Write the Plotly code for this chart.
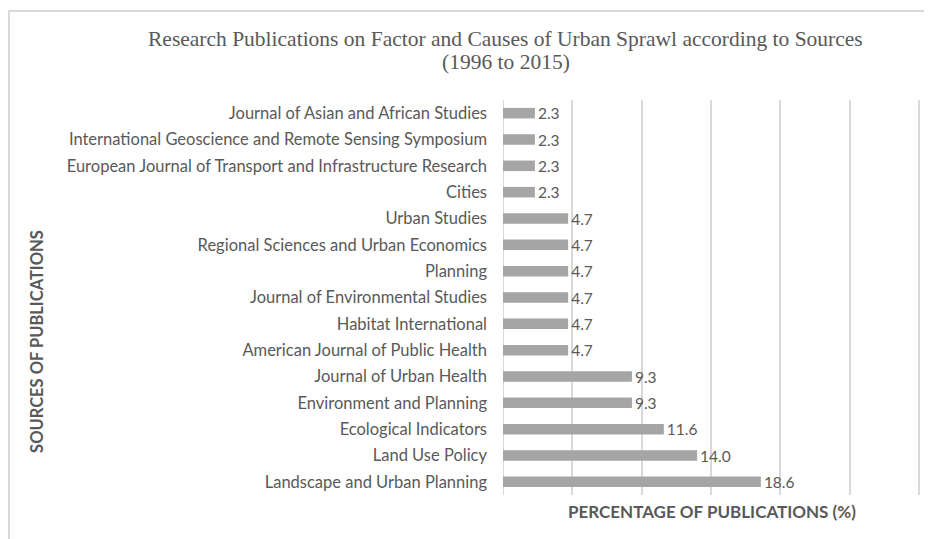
import plotly.graph_objects as go

categories = [
    "Landscape and Urban Planning",
    "Land Use Policy",
    "Ecological Indicators",
    "Environment and Planning",
    "Journal of Urban Health",
    "American Journal of Public Health",
    "Habitat International",
    "Journal of Environmental Studies",
    "Planning",
    "Regional Sciences and Urban Economics",
    "Urban Studies",
    "Cities",
    "European Journal of Transport and Infrastructure Research",
    "International Geoscience and Remote Sensing Symposium",
    "Journal of Asian and African Studies",
]
values = [18.6, 14.0, 11.6, 9.3, 9.3, 4.7, 4.7, 4.7, 4.7, 4.7, 4.7, 2.3, 2.3, 2.3, 2.3]

title_line1 = "Research Publications on Factor and Causes of Urban Sprawl according to Sources"
title_line2 = "(1996 to 2015)"
x_title = "PERCENTAGE OF PUBLICATIONS (%)"
y_title = "SOURCES OF PUBLICATIONS"

grey = "#595959"
fig = go.Figure(go.Bar(
    y=categories, x=values, orientation="h",
    marker=dict(color="#A5A5A5", line=dict(width=0)),
    texttemplate="%{x:.1f}", textposition="outside",
    textfont=dict(family="Lato", size=15.5, color=grey),
    cliponaxis=False, constraintext="none",
))

# page has an 8px body margin, so the figure is offset by 8px
fig.update_layout(
    width=924, height=531,
    margin=dict(l=495, r=11, t=92, b=44),
    paper_bgcolor="white", plot_bgcolor="white",
    bargap=0.6,
    showlegend=False,
    xaxis=dict(range=[0, 30.15], tick0=0, dtick=5, showticklabels=False, showgrid=True,
               gridcolor="#D9D9D9", gridwidth=2, zeroline=False, showline=False,
               ticks=""),
    yaxis=dict(categoryorder="array", categoryarray=categories, showgrid=False,
               tickfont=dict(family="Lato", size=16.5, color=grey),
               ticks="", ticklabelstandoff=15, showline=False, zeroline=False),
    annotations=[
        dict(text=title_line1, xref="paper", yref="paper", x=0.007, y=1.154,
             xanchor="center", yanchor="middle", showarrow=False,
             font=dict(family="Liberation Serif", size=21.5, color=grey)),
        dict(text=title_line2, xref="paper", yref="paper", x=0.007, y=1.096,
             xanchor="center", yanchor="middle", showarrow=False,
             font=dict(family="Liberation Serif", size=21.5, color=grey)),
        dict(text="<b>" + x_title + "</b>", xref="paper", yref="paper", x=0.5, y=-0.043,
             xanchor="center", yanchor="middle", showarrow=False,
             font=dict(family="Lato", size=17, color=grey)),
        dict(text="<b>" + y_title + "</b>", xref="paper", yref="paper", x=-1.115, y=0.39,
             xanchor="center", yanchor="middle", textangle=-90, showarrow=False,
             font=dict(family="Lato", size=16.5, color=grey)),
    ],
    shapes=[
        dict(type="rect", xref="paper", yref="paper",
             x0=-494 / 418, x1=1.2, y0=-0.3, y1=1 + 89 / 395,
             line=dict(color="#D9D9D9", width=2), fillcolor="rgba(0,0,0,0)", layer="below"),
        dict(type="line", xref="x", yref="paper", x0=0, x1=0, y0=0, y1=1,
             line=dict(color="#D9D9D9", width=2), layer="below"),
    ],
)

fig.write_html("out.html")
